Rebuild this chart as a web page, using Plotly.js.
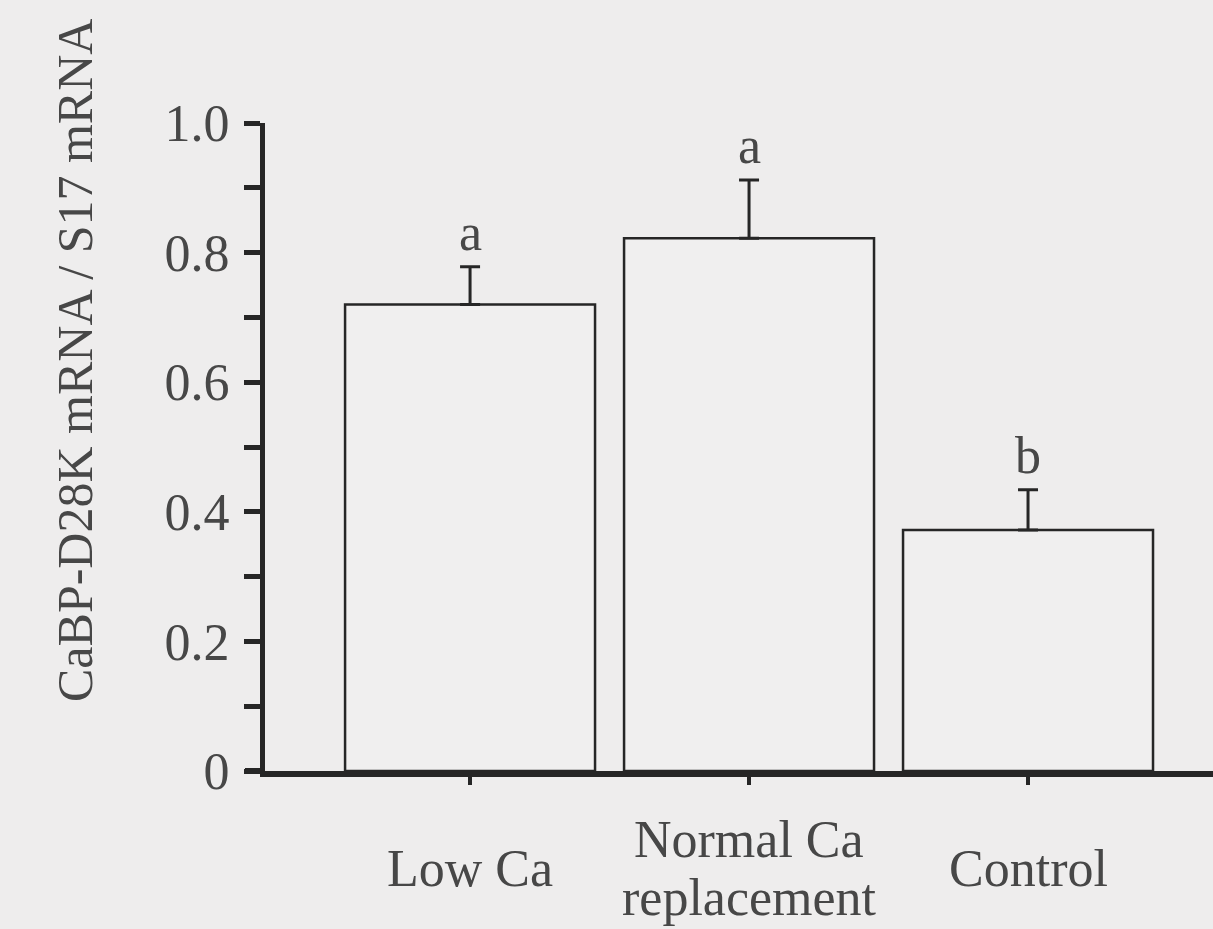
<!DOCTYPE html>
<html>
<head>
<meta charset="utf-8">
<script src="https://cdn.plot.ly/plotly-3.0.1.min.js"></script>
<style>
  html, body { margin: 0; padding: 0; background: #eeeded; }
  #chart { width: 1213px; height: 929px; }
</style>
</head>
<body>
<div id="chart"></div>
<script>
// Relative CaBP-D28K expression for each dietary group
const categories = ["Low Ca", "Normal Ca<br>replacement", "Control"];
const ratioValues = [0.72, 0.822, 0.372];
const ratioErrors = [0.058, 0.09, 0.062];
const groupLetters = ["a", "a", "b"];

// Y-axis ticks: minor every 0.1, labelled every 0.2
const yTickValues = [0, 0.1, 0.2, 0.3, 0.4, 0.5, 0.6, 0.7, 0.8, 0.9, 1.0];
const yTickLabels = ["0", "", "0.2", "", "0.4", "", "0.6", "", "0.8", "", "1.0"];
const yTitle = "CaBP-D28K mRNA / S17 mRNA";

const ink = "#262626";
const textInk = "#474747";
const bg = "#eeeded";
const serif = "'Liberation Serif', 'Times New Roman', serif";

const xIdx = categories.map((_, i) => i);

const bars = {
  type: "bar",
  x: xIdx,
  y: ratioValues,
  marker: { color: "#f0efef", line: { color: ink, width: 2.5 } },
  error_y: {
    type: "data",
    symmetric: false,
    array: ratioErrors,
    arrayminus: ratioErrors.map(() => 0),
    color: ink,
    thickness: 3,
    width: 10
  },
  hoverinfo: "skip"
};

// significance letters sit just above each error cap
const letterNotes = groupLetters.map((t, i) => ({
  x: i, y: ratioValues[i] + ratioErrors[i],
  xref: "x", yref: "y",
  text: t, showarrow: false,
  yanchor: "bottom", yshift: 4,
  font: { family: serif, size: 52, color: textInk }
}));

// category labels, vertically centred below the axis; multi-line labels
// are laid out one line at a time for tighter leading
const lineStep = 58;
const categoryNotes = [];
categories.forEach((c, i) => {
  const lines = c.split("<br>");
  lines.forEach((ln, k) => {
    categoryNotes.push({
      x: i, y: 0, xref: "x", yref: "y",
      yanchor: "middle", showarrow: false,
      yshift: -97 - (k - (lines.length - 1) / 2) * lineStep,
      text: ln,
      font: { family: serif, size: 52, color: textInk }
    });
  });
});

const titleNote = {
  x: 0, y: 0.5, xref: "paper", yref: "paper",
  xshift: -190, yshift: 86,
  text: yTitle, textangle: -90, showarrow: false,
  xanchor: "center", yanchor: "middle",
  font: { family: serif, size: 50, color: textInk }
};

const layout = {
  width: 1213, height: 929,
  paper_bgcolor: bg, plot_bgcolor: bg,
  margin: { l: 265, r: 0, t: 123, b: 158 },
  showlegend: false,
  bargap: 0.104,
  xaxis: {
    range: [-0.735, 2.663],
    showgrid: false, zeroline: false,
    showline: true, linecolor: ink, linewidth: 6,
    ticks: "outside", ticklen: 8, tickwidth: 4, tickcolor: ink,
    tickvals: xIdx, showticklabels: false,
    fixedrange: true
  },
  yaxis: {
    range: [0, 1.0],
    showgrid: false, zeroline: false,
    showline: true, linecolor: ink, linewidth: 5,
    ticks: "outside", ticklen: 16, tickwidth: 5, tickcolor: ink,
    tickvals: yTickValues, ticktext: yTickLabels,
    tickfont: { family: serif, size: 52, color: textInk },
    ticklabelstandoff: 4,
    fixedrange: true
  },
  annotations: letterNotes.concat(categoryNotes, [titleNote]),
  shapes: [{
    type: "line", xref: "paper", yref: "y",
    x0: -20 / 948, x1: 0, y0: 0, y1: 0,
    line: { color: ink, width: 6 }
  }]
};

Plotly.newPlot("chart", [bars], layout, { displayModeBar: false, staticPlot: true });
</script>
</body>
</html>
